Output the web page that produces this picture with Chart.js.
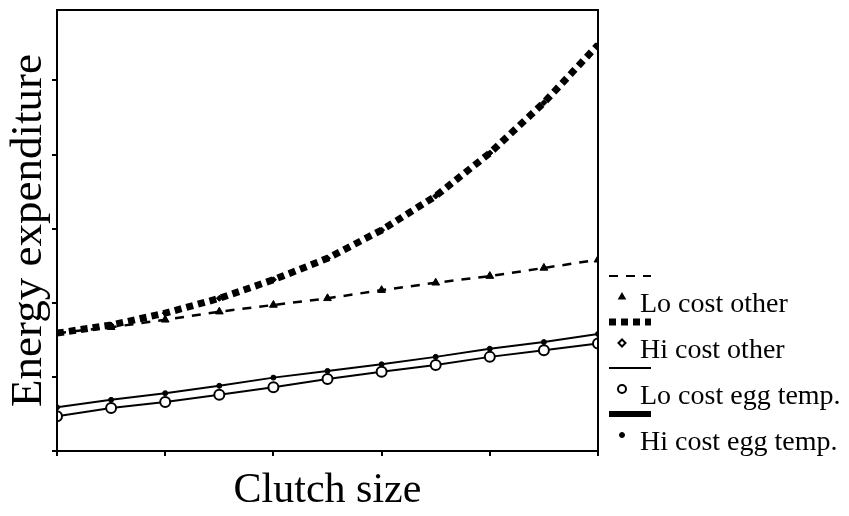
<!DOCTYPE html>
<html>
<head>
<meta charset="utf-8">
<script src="https://cdn.jsdelivr.net/npm/chart.js@4"></script>
<style>
  body { margin: 0; background: #fff; }
  #wrap { width: 849px; height: 516px; }
</style>
</head>
<body>
<div id="wrap"><canvas id="energyChart" width="849" height="516"></canvas></div>
<script>
// clutch size steps (no tick labels on the original)
const clutchSizes = [0, 1, 2, 3, 4, 5, 6, 7, 8, 9, 10];
const xTicks = [0, 2, 4, 6, 8, 10];
const yTicks = [0, 1, 2, 3, 4, 5];

// energy expenditure (arbitrary units)
const loCostOther = [1.59, 1.67, 1.77, 1.88, 1.97, 2.06, 2.17, 2.27, 2.36, 2.47, 2.58];
const hiCostOther = [1.59, 1.70, 1.86, 2.06, 2.31, 2.60, 2.98, 3.44, 4.02, 4.70, 5.48];
const loCostEggTemp = [0.47, 0.58, 0.66, 0.76, 0.86, 0.97, 1.07, 1.16, 1.27, 1.36, 1.45];
const hiCostEggTemp = [0.59, 0.69, 0.78, 0.88, 0.99, 1.08, 1.17, 1.27, 1.38, 1.47, 1.58];

const seriesNames = ["Lo cost other", "Hi cost other", "Lo cost egg temp.", "Hi cost egg temp."];

const toPoints = (arr) => arr.map((v, i) => ({ x: clutchSizes[i], y: v }));

Chart.defaults.font.family = "'Liberation Serif', 'DejaVu Serif', serif";
Chart.defaults.color = "#000";

// frame around the plot (top + right sides as well)
const framePlugin = {
  id: "frame",
  afterDatasetsDraw(chart) {
    const { ctx, chartArea: a } = chart;
    ctx.save();
    ctx.strokeStyle = "#000";
    ctx.lineWidth = 2;
    ctx.strokeRect(a.left, a.top, a.right - a.left, a.bottom - a.top);
    ctx.restore();
  },
};

// odd legend: line sample on one row, marker + name on the next
const sideLegend = {
  id: "sideLegend",
  afterDraw(chart) {
    const { ctx } = chart;
    const x0 = 609, x1 = 651, markX = 622, textX = 640;
    let y = 276;
    ctx.save();
    chart.data.datasets.forEach((ds) => {
      ctx.strokeStyle = "#000";
      ctx.lineWidth = ds.legendLineWidth;
      ctx.setLineDash(ds.borderDash || []);
      ctx.lineCap = "butt";
      ctx.beginPath();
      ctx.moveTo(x0, y);
      ctx.lineTo(x1, y);
      ctx.stroke();
      ctx.setLineDash([]);

      ctx.fillStyle = ds.legendPointFill;
      ctx.strokeStyle = "#000";
      ctx.lineWidth = ds.legendPointBorder;
      Chart.helpers.drawPoint(ctx, {
        pointStyle: ds.pointStyle,
        radius: ds.legendPointRadius,
        rotation: 0,
        borderWidth: ds.legendPointBorder,
      }, markX, y + 21);

      ctx.fillStyle = "#000";
      ctx.font = "28px 'Liberation Serif', serif";
      ctx.textBaseline = "alphabetic";
      ctx.fillText(ds.label, textX, y + 36);
      y += 46;
    });
    ctx.restore();
  },
};

const ctx = document.getElementById("energyChart").getContext("2d");
const myChart = new Chart(ctx, {
  type: "line",
  plugins: [framePlugin, sideLegend],
  data: {
    datasets: [
      {
        label: seriesNames[0],
        data: toPoints(loCostOther),
        borderColor: "#000",
        borderWidth: 2.5,
        borderDash: [9, 8],
        pointStyle: "triangle",
        pointRadius: 4.5,
        pointBackgroundColor: "#000",
        pointBorderColor: "#000",
        pointBorderWidth: 1,
        legendLineWidth: 2,
        legendPointRadius: 3.5,
        legendPointFill: "#000",
        legendPointBorder: 1.5,
      },
      {
        label: seriesNames[1],
        data: toPoints(hiCostOther),
        borderColor: "#000",
        borderWidth: 7,
        borderDash: [7, 5],
        pointStyle: "rectRot",
        pointRadius: 3,
        pointBackgroundColor: "#000",
        pointBorderColor: "#000",
        pointBorderWidth: 1,
        legendLineWidth: 7,
        legendPointRadius: 3.5,
        legendPointFill: "#fff",
        legendPointBorder: 2,
      },
      {
        label: seriesNames[2],
        data: toPoints(loCostEggTemp),
        borderColor: "#000",
        borderWidth: 2,
        pointStyle: "circle",
        pointRadius: 5,
        pointBackgroundColor: "#fff",
        pointBorderColor: "#000",
        pointBorderWidth: 2,
        legendLineWidth: 2,
        legendPointRadius: 4,
        legendPointFill: "#fff",
        legendPointBorder: 2,
      },
      {
        label: seriesNames[3],
        data: toPoints(hiCostEggTemp),
        borderColor: "#000",
        borderWidth: 2,
        pointStyle: "circle",
        pointRadius: 2.5,
        pointBackgroundColor: "#000",
        pointBorderColor: "#000",
        pointBorderWidth: 1,
        legendLineWidth: 6,
        legendPointRadius: 2.5,
        legendPointFill: "#000",
        legendPointBorder: 1,
      },
    ],
  },
  options: {
    responsive: false,
    animation: false,
    layout: { padding: { top: 10, right: 251, left: 0, bottom: 0 } },
    elements: { line: { tension: 0, fill: false } },
    scales: {
      x: {
        type: "linear",
        min: 0,
        max: 10,
        afterBuildTicks: (scale) => { scale.ticks = xTicks.map((v) => ({ value: v })); },
        ticks: { display: false },
        grid: { drawOnChartArea: false, drawTicks: true, tickLength: 5, color: "#000", lineWidth: 2 },
        border: { color: "#000", width: 2 },
        title: { display: true, text: "Clutch size", font: { size: 42 }, padding: 0 },
        afterFit: (scale) => { scale.height = 65; },
      },
      y: {
        min: 0,
        max: 5.95,
        afterBuildTicks: (scale) => { scale.ticks = yTicks.map((v) => ({ value: v })); },
        ticks: { display: false },
        grid: { drawOnChartArea: false, drawTicks: true, tickLength: 5, color: "#000", lineWidth: 2 },
        border: { color: "#000", width: 2 },
        title: { display: true, text: "Energy expenditure", font: { size: 45 }, padding: { top: 2, bottom: 0 } },
        afterFit: (scale) => { scale.width = 57; },
      },
    },
    plugins: {
      legend: { display: false },
      tooltip: { enabled: false },
    },
  },
});
</script>
</body>
</html>
